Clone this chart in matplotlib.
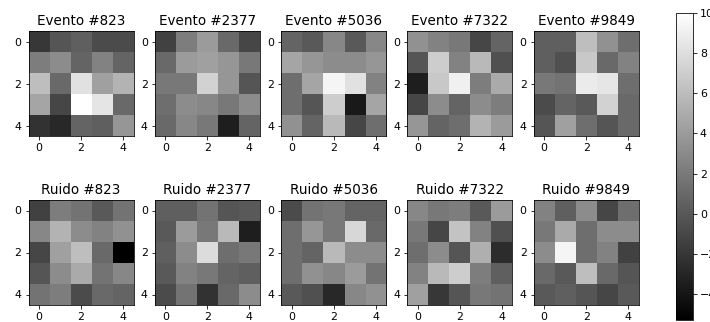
import numpy as np
import matplotlib
matplotlib.use('Agg')
import matplotlib.pyplot as plt

# indices of the events shown
ids = [823, 2377, 5036, 7322, 9849]

# signal images (5x5)
evento_823 = [[-2.0, -0.2, 0.4, -0.8, -0.8],
              [2.2, 3.1, 0.7, 2.5, 0.7],
              [6.1, 1.0, 8.2, 4.3, 5.5],
              [4.6, -1.1, 10.0, 8.4, 1.0],
              [-2.3, -2.9, 0.7, 0.4, 3.7]]
evento_2377 = [[-1.4, 2.2, 4.0, 1.0, -1.1],
               [1.0, 4.0, 4.3, 3.7, 1.9],
               [1.9, 1.9, 7.3, 3.7, -0.2],
               [1.3, 3.1, 2.8, 1.9, 3.1],
               [1.0, 2.8, 1.9, -3.5, 0.7]]
evento_5036 = [[0.7, 0.1, 2.8, 0.1, 2.8],
               [4.6, 3.7, 3.1, 3.1, 3.7],
               [1.3, 4.6, 9.4, 8.2, 2.5],
               [1.3, -0.2, 7.0, -3.8, 4.6],
               [3.4, 0.7, 5.8, -1.1, 1.3]]
evento_7322 = [[3.4, 2.5, 1.9, -1.1, 0.7],
               [-0.2, 7.0, 2.5, 5.8, -0.5],
               [-3.5, 6.7, 9.1, 2.2, 4.9],
               [-1.1, 3.1, 0.7, 3.1, 2.2],
               [3.7, 0.7, 1.3, 5.5, 4.0]]
evento_9849 = [[0.4, 0.4, 6.1, 3.4, 1.3],
               [0.4, -0.5, 6.7, 1.0, 2.5],
               [1.9, 1.6, 8.8, 8.5, 1.3],
               [-0.8, 0.7, 0.1, 7.3, 1.0],
               [-0.2, 4.3, 1.3, -0.2, 1.0]]

# noise images
ruido_823 = [[-1.4, 2.2, 1.6, 0.1, 1.6],
             [2.8, 5.5, 3.1, 2.5, 3.4],
             [-1.1, 4.3, 6.1, 1.0, -5.3],
             [-0.2, 3.1, 4.9, 1.6, 2.8],
             [1.6, 2.2, -0.8, 1.0, 0.7]]
ruido_2377 = [[0.4, 0.4, 1.6, -0.2, 0.1],
              [0.1, 4.0, 1.9, 5.8, -3.5],
              [0.4, 3.1, 7.9, 1.3, 1.9],
              [0.1, 2.5, 1.9, 0.7, 0.4],
              [-0.8, 1.6, -2.3, 1.0, 3.1]]
ruido_5036 = [[-0.8, 1.6, 1.9, 0.7, 0.7],
              [1.3, 3.7, 1.9, 7.6, 1.0],
              [1.3, 0.7, 5.8, 3.1, 3.1],
              [1.3, 3.4, 2.8, 4.0, 1.6],
              [0.1, -0.5, -2.9, 2.8, 3.4]]
ruido_7322 = [[2.8, 1.9, 2.2, 0.1, 4.0],
              [1.9, -1.1, 6.4, 2.5, -0.5],
              [1.3, 3.1, -0.2, 5.2, -2.6],
              [2.5, 5.8, 7.0, 2.2, 0.4],
              [4.3, -2.0, -0.2, 1.9, 1.6]]
ruido_9849 = [[2.5, 0.4, 3.1, -1.1, 1.3],
              [1.9, 4.9, 1.3, 3.1, 3.1],
              [3.1, 9.4, 1.3, 2.5, -1.4],
              [1.0, 0.1, 6.1, 1.0, -0.2],
              [0.1, 0.4, -0.2, -1.1, 0.1]]

eventos = [evento_823, evento_2377, evento_5036, evento_7322, evento_9849]
ruidos = [ruido_823, ruido_2377, ruido_5036, ruido_7322, ruido_9849]
ticks = [0, 2, 4]

VMIN, VMAX = -5.3, 10.0
W, H = 710, 322

plt.rcParams['xtick.labelsize'] = 11
plt.rcParams['ytick.labelsize'] = 11

fig = plt.figure(figsize=(W / 72, H / 72), dpi=72)

def px_axes(x0, y_top, w, h):
    # pixel box -> figure fraction
    return fig.add_axes([x0 / W, 1 - (y_top + h) / H, w / W, h / H])

im = None
for i in range(5):
    x0 = 28 + 126.3 * i
    ax = px_axes(x0, 31, 106, 105)
    im = ax.imshow(np.array(eventos[i]), cmap='gray', vmin=VMIN, vmax=VMAX)
    ax.set_title('Evento #%d' % ids[i], fontsize=13.5)
    ax.set_xticks(ticks)
    ax.set_yticks(ticks)

    ax = px_axes(x0, 200, 106, 105)
    ax.imshow(np.array(ruidos[i]), cmap='gray', vmin=VMIN, vmax=VMAX)
    ax.set_title('Ruido #%d' % ids[i], fontsize=13.5)
    ax.set_xticks(ticks)
    ax.set_yticks(ticks)

cax = px_axes(676, 13, 17, 307)
fig.colorbar(im, cax=cax)

fig.savefig('out.png', dpi=72)
